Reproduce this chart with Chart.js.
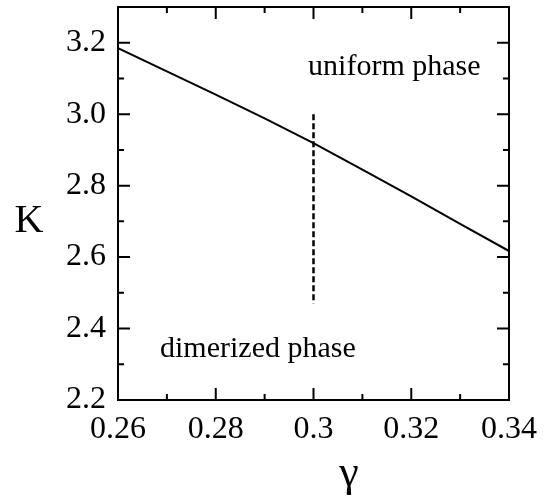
<!DOCTYPE html>
<html>
<head>
  <title>K vs gamma phase diagram</title>
  <script src="https://cdn.jsdelivr.net/npm/chart.js"></script>
  <style>
    body {
      margin: 0;
      padding: 0;
      background: #fff;
    }
    #wrap {
      width: 546px;
      height: 499px;
    }
  </style>
</head>
<body>
  <div id="wrap">
    <canvas id="phaseChart" width="546" height="499"></canvas>
  </div>
  <script>
    // phase boundary K(gamma)
    const gammaValues = [0.26, 0.27, 0.28, 0.29, 0.30, 0.31, 0.32, 0.33, 0.34];
    const kValues = [3.185, 3.12, 3.055, 2.988, 2.919, 2.845, 2.77, 2.693, 2.617];

    // vertical dashed marker at gamma = 0.3
    const markerGamma = [0.3, 0.3];
    const markerK = [3.0, 2.47];

    // axis ticks
    const xTicks = [0.26, 0.28, 0.30, 0.32, 0.34];
    const xMinorTicks = [0.27, 0.29, 0.31, 0.33];
    const yTicks = [2.2, 2.4, 2.6, 2.8, 3.0, 3.2];
    const yMinorTicks = [2.3, 2.5, 2.7, 2.9, 3.1];

    // region labels, placed in data coordinates
    const phaseLabels = ["uniform phase", "dimerized phase"];
    const phaseLabelGamma = [0.2989, 0.2686];
    const phaseLabelK = [3.110, 2.320];

    const SERIF = "'Liberation Serif', 'Times New Roman', serif";

    const curve = gammaValues.map((g, i) => ({x: g, y: kValues[i]}));
    const marker = markerGamma.map((g, i) => ({x: g, y: markerK[i]}));

    // frame, inward ticks on all four sides, text labels
    const framePlugin = {
      id: 'frame',
      afterDraw(chart) {
        const ctx = chart.ctx;
        const a = chart.chartArea;
        const xs = chart.scales.x;
        const ys = chart.scales.y;
        ctx.save();
        ctx.strokeStyle = '#000';
        ctx.lineWidth = 2;
        ctx.strokeRect(a.left, a.top, a.right - a.left, a.bottom - a.top);

        ctx.beginPath();
        const xTick = (v, len) => {
          const px = xs.getPixelForValue(v);
          ctx.moveTo(px, a.bottom); ctx.lineTo(px, a.bottom - len);
          ctx.moveTo(px, a.top); ctx.lineTo(px, a.top + len);
        };
        const yTick = (v, len) => {
          const py = ys.getPixelForValue(v);
          ctx.moveTo(a.left, py); ctx.lineTo(a.left + len, py);
          ctx.moveTo(a.right, py); ctx.lineTo(a.right - len, py);
        };
        xTicks.forEach(v => xTick(v, 12));
        xMinorTicks.forEach(v => xTick(v, 6));
        yTicks.forEach(v => yTick(v, 12));
        yMinorTicks.forEach(v => yTick(v, 6));
        ctx.stroke();

        ctx.fillStyle = '#000';
        ctx.textBaseline = 'alphabetic';
        ctx.textAlign = 'left';
        ctx.font = '30px ' + SERIF;
        phaseLabels.forEach((t, i) => {
          ctx.fillText(t, xs.getPixelForValue(phaseLabelGamma[i]), ys.getPixelForValue(phaseLabelK[i]));
        });

        // axis titles
        ctx.textAlign = 'center';
        ctx.font = '40px ' + SERIF;
        ctx.fillText('K', 29, 232);
        ctx.font = '44px ' + SERIF;
        ctx.fillText('γ', 349, 486);
        ctx.restore();
      }
    };

    new Chart(document.getElementById('phaseChart').getContext('2d'), {
      type: 'scatter',
      data: {
        datasets: [
          {
            data: curve,
            showLine: true,
            borderColor: '#000',
            borderWidth: 2,
            pointRadius: 0,
            tension: 0
          },
          {
            data: marker,
            showLine: true,
            borderColor: '#000',
            borderWidth: 2.5,
            borderDash: [6, 3],
            pointRadius: 0
          }
        ]
      },
      options: {
        responsive: false,
        animation: false,
        layout: {
          padding: { top: 7, right: 37, left: 0, bottom: 0 }
        },
        plugins: {
          legend: { display: false },
          tooltip: { enabled: false }
        },
        scales: {
          x: {
            type: 'linear',
            min: 0.26,
            max: 0.34,
            grid: { display: false, drawTicks: false },
            border: { display: false },
            afterBuildTicks: s => { s.ticks = xTicks.map(v => ({value: v})); },
            afterFit: s => { s.height = 99; s.paddingLeft = 0; s.paddingRight = 0; },
            ticks: {
              color: '#000',
              padding: 10,
              maxRotation: 0,
              font: { family: SERIF, size: 32 },
              callback: v => String(+v.toFixed(2))
            }
          },
          y: {
            type: 'linear',
            min: 2.2,
            max: 3.3,
            grid: { display: false, drawTicks: false },
            border: { display: false },
            afterBuildTicks: s => { s.ticks = yTicks.map(v => ({value: v})); },
            afterFit: s => { s.width = 118; s.paddingTop = 0; s.paddingBottom = 0; },
            ticks: {
              color: '#000',
              padding: 12,
              font: { family: SERIF, size: 32 },
              callback: v => v.toFixed(1)
            }
          }
        }
      },
      plugins: [framePlugin]
    });
  </script>
</body>
</html>
